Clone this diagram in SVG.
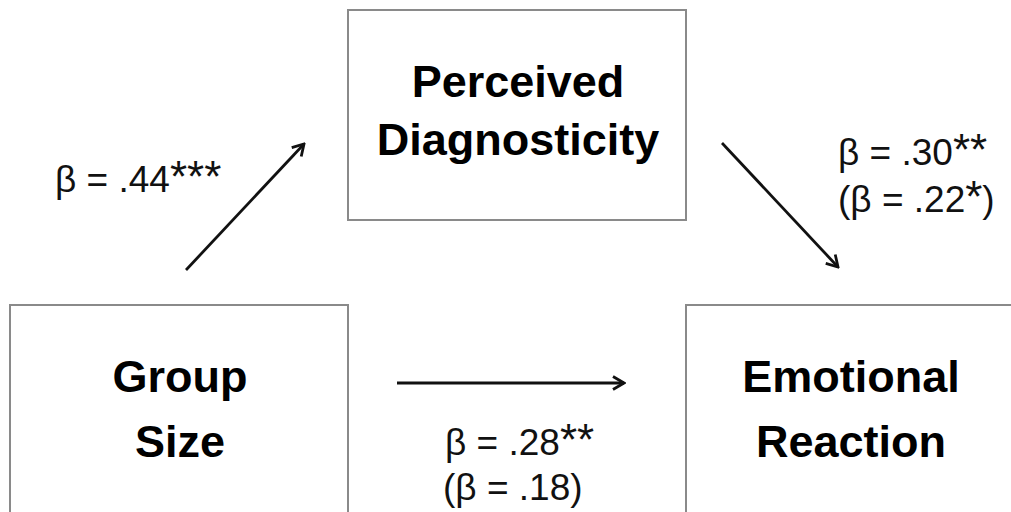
<svg xmlns="http://www.w3.org/2000/svg" width="1011" height="512" viewBox="0 0 1011 512">
<style>
.box{fill:#fff;stroke:#8a8a8a;stroke-width:2}
.node{font-family:"Liberation Sans",Arial,sans-serif;font-weight:bold;font-size:45px;fill:#000;text-anchor:middle}
.lbl{font-family:"Liberation Sans",Arial,sans-serif;font-size:37px;fill:#111}
.ast{font-size:44px}
.conn{stroke:#111;stroke-width:2.8;fill:none;marker-end:url(#arr)}
</style>
<defs>
<marker id="arr" viewBox="0 0 14 16" refX="12.5" refY="8" markerWidth="14" markerHeight="16" markerUnits="userSpaceOnUse" orient="auto">
<path d="M1.5,1.5 L12.5,8 L1.5,14.5" fill="none" stroke="#111" stroke-width="2.8"/>
</marker>
</defs>
<rect width="1011" height="512" fill="#fff"/>
<g id="node-perceived">
<rect class="box" x="348" y="10" width="338" height="210"/>
<text class="node" x="518" y="97">Perceived</text>
<text class="node" x="518" y="155">Diagnosticity</text>
</g>
<g id="node-group">
<rect class="box" x="10" y="305" width="338" height="220"/>
<text class="node" x="180" y="392">Group</text>
<text class="node" x="180" y="457">Size</text>
</g>
<g id="node-emotional">
<rect class="box" x="686" y="305" width="340" height="220"/>
<text class="node" x="851" y="392">Emotional</text>
<text class="node" x="851" y="457">Reaction</text>
</g>
<g id="connectors">
<line class="conn" x1="186" y1="270" x2="304" y2="144"/>
<line class="conn" x1="722" y1="143" x2="838" y2="267"/>
<line class="conn" x1="397" y1="383" x2="624" y2="383"/>
</g>
<g id="labels">
<text class="lbl" x="55" y="192">β = .44<tspan class="ast">***</tspan></text>
<text class="lbl" x="838" y="165">β = .30<tspan class="ast">**</tspan></text>
<text class="lbl" x="838" y="212">(β = .22<tspan class="ast">*</tspan>)</text>
<text class="lbl" x="445" y="455">β = .28<tspan class="ast">**</tspan></text>
<text class="lbl" x="443" y="500">(β = .18)</text>
</g>
</svg>
